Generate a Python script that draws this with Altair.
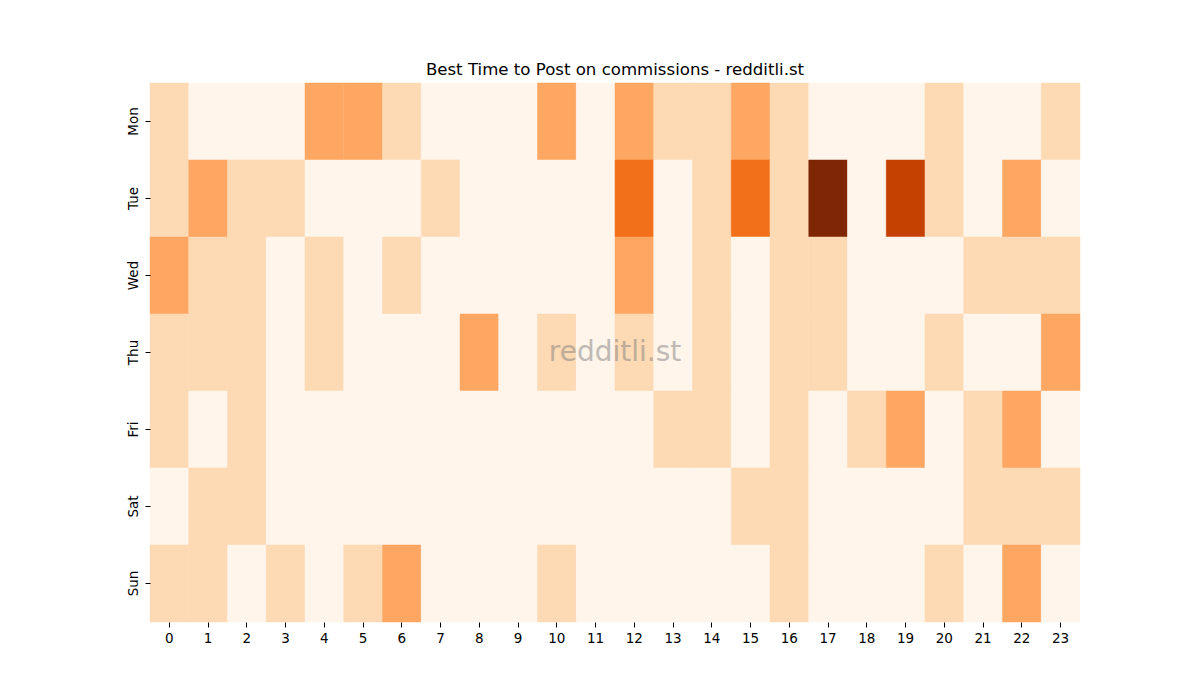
import altair as alt
import pandas as pd

days = ["Mon", "Tue", "Wed", "Thu", "Fri", "Sat", "Sun"]
hours = list(range(24))

mon = [1, 0, 0, 0, 2, 2, 1, 0, 0, 0, 2, 0, 2, 1, 1, 2, 1, 0, 0, 0, 1, 0, 0, 1]
tue = [1, 2, 1, 1, 0, 0, 0, 1, 0, 0, 0, 0, 3, 0, 1, 3, 1, 5, 0, 4, 1, 0, 2, 0]
wed = [2, 1, 1, 0, 1, 0, 1, 0, 0, 0, 0, 0, 2, 0, 1, 0, 1, 1, 0, 0, 0, 1, 1, 1]
thu = [1, 1, 1, 0, 1, 0, 0, 0, 2, 0, 1, 0, 1, 0, 1, 0, 1, 1, 0, 0, 1, 0, 0, 2]
fri = [1, 0, 1, 0, 0, 0, 0, 0, 0, 0, 0, 0, 0, 1, 1, 0, 1, 0, 1, 2, 0, 1, 2, 0]
sat = [0, 1, 1, 0, 0, 0, 0, 0, 0, 0, 0, 0, 0, 0, 0, 1, 1, 0, 0, 0, 0, 1, 1, 1]
sun = [1, 1, 0, 1, 0, 1, 2, 0, 0, 0, 1, 0, 0, 0, 0, 0, 1, 0, 0, 0, 1, 0, 2, 0]

# Oranges colormap sampled at 0..5 (vmin=0, vmax=5)
levels = [0, 1, 2, 3, 4, 5]
oranges = ["#fff5eb", "#fdd9b4", "#fda762", "#f3701b", "#c54102", "#7f2704"]

rows = []
for day, counts in zip(days, [mon, tue, wed, thu, fri, sat, sun]):
    for hour, count in zip(hours, counts):
        rows.append({"day": day, "hour": hour, "count": count})
source = pd.DataFrame(rows)

font = "DejaVu Sans"
color_scale = alt.Scale(domain=levels, range=oranges)

heat = (
    alt.Chart(source)
    .mark_rect(strokeWidth=0.5, opacity=1)
    .encode(
        x=alt.X(
            "hour:O",
            title=None,
            scale=alt.Scale(paddingInner=0, paddingOuter=0),
            axis=alt.Axis(
                labelAngle=0, domain=False, tickSize=5, tickColor="black",
                labelColor="black", labelFontSize=13.5, labelFont=font, labelPadding=4,
            ),
        ),
        y=alt.Y(
            "day:O",
            sort=days,
            title=None,
            scale=alt.Scale(paddingInner=0, paddingOuter=0),
            axis=alt.Axis(
                labelAngle=-90, labelAlign="center", labelBaseline="bottom",
                domain=False, tickSize=5, tickColor="black", labelColor="black",
                labelFontSize=13.5, labelFont=font, labelPadding=5,
            ),
        ),
        color=alt.Color("count:Q", scale=color_scale, legend=None),
        stroke=alt.Stroke("count:Q", scale=color_scale, legend=None),
    )
)

watermark = (
    alt.Chart(pd.DataFrame({"text": ["redditli.st"]}))
    .mark_text(fontSize=28, font=font, color="gray", opacity=0.5)
    .encode(text="text:N", x=alt.value(465), y=alt.value(270))
)

chart = (
    alt.layer(heat, watermark)
    .properties(
        width=930,
        height=539,
        autosize=alt.AutoSizeParams(type="none"),
        padding={"left": 142, "top": 75, "right": 112, "bottom": 70},
        title=alt.TitleParams(
            "Best Time to Post on commissions - redditli.st",
            fontSize=16.6, font=font, fontWeight="normal", color="black",
            anchor="middle", offset=4,
        ),
    )
    .configure_view(stroke=None)
)

chart.save("out.html", embed_options={"renderer": "svg", "actions": False})
